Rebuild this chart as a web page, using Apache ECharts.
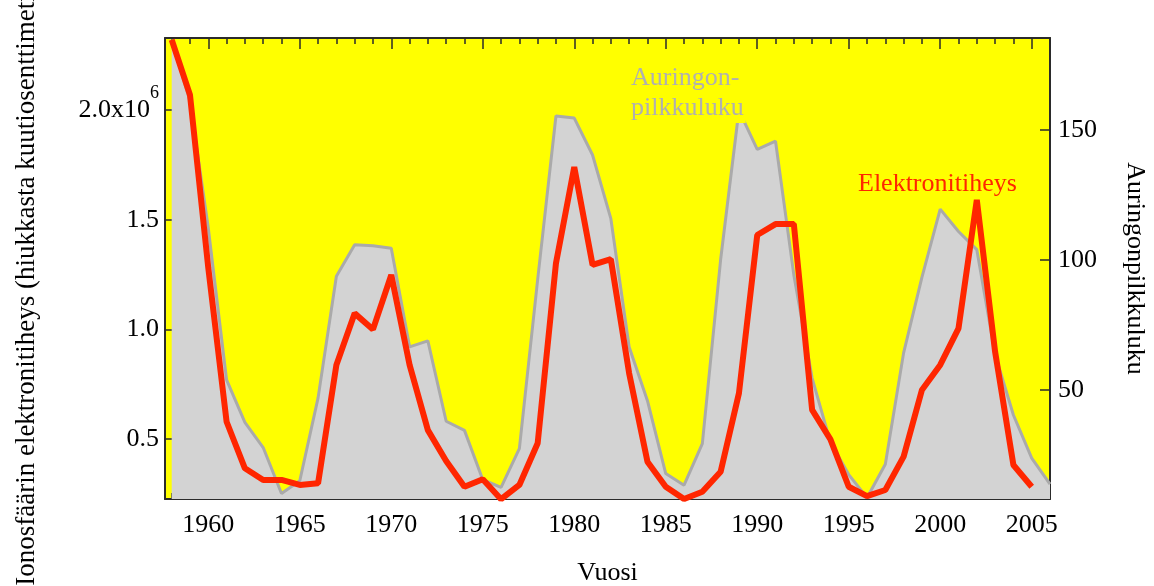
<!DOCTYPE html>
<html>
<head>
<meta charset="utf-8">
<script src="https://cdn.jsdelivr.net/npm/echarts@6/dist/echarts.min.js"></script>
<style>
  html, body { margin: 0; padding: 0; background: #ffffff; }
  #chart { width: 1154px; height: 586px; }
</style>
</head>
<body>
<div id="chart"></div>
<script>
// Years covered by the two series
const sunspotYears = [1958, 1959, 1960, 1961, 1962, 1963, 1964, 1965, 1966, 1967,
  1968, 1969, 1970, 1971, 1972, 1973, 1974, 1975, 1976, 1977,
  1978, 1979, 1980, 1981, 1982, 1983, 1984, 1985, 1986, 1987,
  1988, 1989, 1990, 1991, 1992, 1993, 1994, 1995, 1996, 1997,
  1998, 1999, 2000, 2001, 2002, 2003, 2004, 2005, 2006];

// Yearly sunspot number (right axis)
const sunspotNumber = [184.8, 161.0, 112.3, 53.9, 37.6, 27.9, 10.2, 15.1, 47.0, 93.8,
  105.9, 105.5, 104.5, 66.6, 68.9, 38.0, 34.5, 15.5, 12.6, 27.5,
  92.5, 155.4, 154.6, 140.4, 115.9, 66.6, 45.9, 17.9, 13.4, 29.4,
  100.2, 157.6, 142.6, 145.7, 94.3, 54.6, 29.9, 17.5, 8.6, 21.5,
  64.3, 93.3, 119.6, 111.0, 104.0, 63.7, 40.4, 23.8, 13.8];

const densityYears = [1958, 1959, 1960, 1961, 1962, 1963, 1964, 1965, 1966, 1967,
  1968, 1969, 1970, 1971, 1972, 1973, 1974, 1975, 1976, 1977,
  1978, 1979, 1980, 1981, 1982, 1983, 1984, 1985, 1986, 1987,
  1988, 1989, 1990, 1991, 1992, 1993, 1994, 1995, 1996, 1997,
  1998, 1999, 2000, 2001, 2002, 2003, 2004, 2005];

// Ionospheric electron density, in units of 10^6 particles per cm^3 (left axis)
const electronDensity = [2.32, 2.068, 1.28, 0.579, 0.367, 0.314, 0.314, 0.291, 0.299, 0.838,
  1.073, 1.000, 1.248, 0.838, 0.541, 0.40, 0.283, 0.317, 0.226, 0.291,
  0.481, 1.301, 1.74, 1.294, 1.320, 0.800, 0.397, 0.283, 0.227, 0.260,
  0.351, 0.709, 1.430, 1.480, 1.480, 0.633, 0.499, 0.283, 0.240, 0.268,
  0.420, 0.724, 0.838, 1.005, 1.59, 0.898, 0.382, 0.283];

// Tick positions
const majorYears = [1960, 1965, 1970, 1975, 1980, 1985, 1990, 1995, 2000, 2005];
const minorYears = sunspotYears.slice();
const densityTicks = [0.5, 1.0, 1.5, 2.0];
const sunspotTicks = [50, 100, 150];

const SERIF = '"Liberation Serif", "Times New Roman", serif';
const FRAME = '#2b2b2b';
const X_MIN = 1957.634, X_MAX = 2006;

function yearAxis(position, tickValues, tickLen, withLabels, withLine) {
  return {
    type: 'value',
    position: position,
    min: X_MIN,
    max: X_MAX,
    splitLine: { show: false },
    axisLine: { show: withLine, lineStyle: { color: FRAME, width: 2 } },
    axisTick: {
      show: true, inside: true, length: tickLen,
      customValues: tickValues,
      lineStyle: { color: FRAME, width: 1.5 }
    },
    axisLabel: withLabels ? {
      show: true,
      customValues: majorYears,
      margin: 13,
      fontFamily: SERIF, fontSize: 26, color: '#000',
      formatter: v => String(v)
    } : { show: false },
    name: withLabels ? 'Vuosi' : '',
    nameLocation: 'middle',
    nameGap: 61,
    nameTextStyle: { fontFamily: SERIF, fontSize: 26, color: '#000' }
  };
}

const chart = echarts.init(document.getElementById('chart'), null, { renderer: 'canvas' });

chart.setOption({
  animation: false,
  backgroundColor: '#ffffff',
  grid: {
    left: 165, right: 104, top: 38, bottom: 87,
    show: true, backgroundColor: '#ffff00', borderWidth: 0,
    outerBoundsMode: 'none'
  },
  xAxis: [
    yearAxis('bottom', majorYears, 11, true, true),
    yearAxis('bottom', minorYears, 6, false, false),
    yearAxis('top', majorYears, 11, false, true),
    yearAxis('top', minorYears, 6, false, false)
  ],
  yAxis: [
    {
      type: 'value', position: 'left',
      min: 0.227, max: 2.328,
      splitLine: { show: false },
      axisLine: { show: true, lineStyle: { color: FRAME, width: 2 } },
      axisTick: { show: true, inside: true, length: 10, customValues: densityTicks,
                  lineStyle: { color: FRAME, width: 1.5 } },
      axisLabel: {
        customValues: densityTicks,
        margin: 6,
        color: '#000',
        // the top label carries the 10^6 scale factor as a raised exponent
        formatter: v => (Math.abs(v - 2) < 1e-9 ? '{m|2.0x10}{s|6}' : '{m|' + v.toFixed(1) + '}'),
        rich: {
          m: { fontFamily: SERIF, fontSize: 26, lineHeight: 52, color: '#000' },
          s: { fontFamily: SERIF, fontSize: 18, lineHeight: 18, color: '#000',
               verticalAlign: 'top' }
        }
      },
      name: 'Ionosfäärin elektronitiheys (hiukkasta kuutiosenttimetrissä)',
      nameLocation: 'middle',
      nameRotate: 90,
      nameGap: 125,
      nameTextStyle: { fontFamily: SERIF, fontSize: 27, color: '#000', padding: [0, 0, 0, 8] }
    },
    {
      type: 'value', position: 'right',
      min: 8.1, max: 185.4,
      splitLine: { show: false },
      axisLine: { show: true, lineStyle: { color: FRAME, width: 2 } },
      axisTick: { show: true, inside: true, length: 10, customValues: sunspotTicks,
                  lineStyle: { color: FRAME, width: 1.5 } },
      axisLabel: {
        customValues: sunspotTicks,
        margin: 8,
        fontFamily: SERIF, fontSize: 26, color: '#000'
      },
      name: 'Auringonpilkkuluku',
      nameLocation: 'middle',
      nameRotate: -90,
      nameGap: 72,
      nameTextStyle: { fontFamily: SERIF, fontSize: 26, color: '#000' }
    }
  ],
  series: [
    {
      name: 'Auringonpilkkuluku',
      type: 'line',
      xAxisIndex: 0, yAxisIndex: 1,
      data: sunspotYears.map((y, i) => [y, sunspotNumber[i]]),
      symbol: 'none',
      lineStyle: { color: '#aaaaaa', width: 3, join: 'bevel' },
      areaStyle: { color: '#d3d3d3', opacity: 1, origin: 'start' },
      z: 2
    },
    {
      name: 'Elektronitiheys',
      type: 'line',
      xAxisIndex: 0, yAxisIndex: 0,
      data: densityYears.map((y, i) => [y, electronDensity[i]]),
      symbol: 'none',
      clip: false,
      lineStyle: { color: '#ff2600', width: 6, join: 'bevel' },
      z: 3
    }
  ],
  graphic: [
    {
      type: 'text', z: 100,
      x: 631, y: 63,
      style: {
        text: 'Auringon-\npilkkuluku',
        font: '26px ' + SERIF,
        lineHeight: 30,
        fill: '#b0b0b0',
        backgroundColor: '#ffff00',
        padding: [0, 2, 0, 0]
      }
    },
    {
      type: 'text', z: 100,
      x: 858, y: 169,
      style: {
        text: 'Elektronitiheys',
        font: '26px ' + SERIF,
        lineHeight: 30,
        fill: '#ff2600',
        backgroundColor: '#ffff00'
      }
    }
  ]
});
</script>
</body>
</html>
